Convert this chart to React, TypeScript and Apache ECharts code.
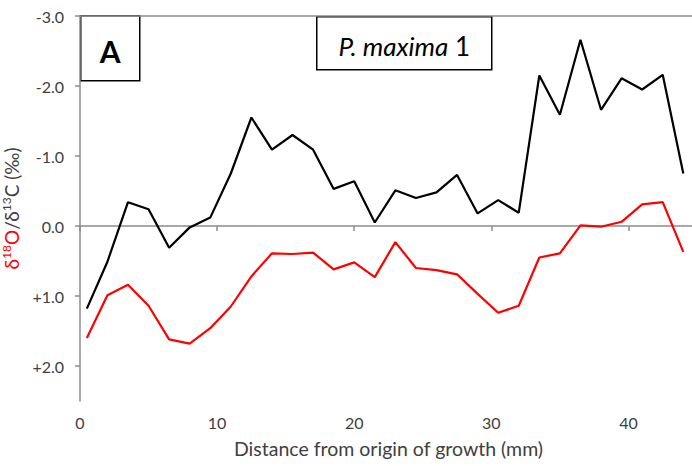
import React, { useEffect, useRef } from "react";
import * as echarts from "echarts";

// Sampling positions along the shell (mm from origin of growth)
const distance = [
  0.5, 2, 3.5, 5, 6.5, 8, 9.5, 11, 12.5, 14, 15.5, 17, 18.5, 20, 21.5, 23,
  24.5, 26, 27.5, 29, 30.5, 32, 33.5, 35, 36.5, 38, 39.5, 41, 42.5, 44,
];

// δ13C (‰), black line
const carbon = [
  1.18, 0.51, -0.34, -0.24, 0.31, 0.02, -0.12, -0.75, -1.55, -1.09, -1.3,
  -1.09, -0.53, -0.64, -0.05, -0.51, -0.4, -0.48, -0.73, -0.18, -0.37, -0.19,
  -2.15, -1.59, -2.66, -1.66, -2.11, -1.95, -2.16, -0.75,
];

// δ18O (‰), red line
const oxygen = [
  1.6, 0.99, 0.84, 1.14, 1.62, 1.68, 1.46, 1.15, 0.72, 0.39, 0.4, 0.38, 0.62,
  0.52, 0.73, 0.23, 0.6, 0.63, 0.69, 0.97, 1.24, 1.14, 0.45, 0.39, -0.01, 0.01,
  -0.06, -0.31, -0.34, 0.37,
];

const xTitle = "Distance from origin of growth (mm)";
const panelLabel = "A";
const specimenItalic = "P. maxima";
const specimenNumber = "1";

const FONT = "Lato, 'Liberation Sans', sans-serif";
const AXIS_GREY = "#8c8c8c";
const LABEL_COLOR = "#404040";

export default function App() {
  const ref = useRef<HTMLDivElement>(null);

  useEffect(() => {
    if (!ref.current) return;
    const chart = echarts.init(ref.current, null, { renderer: "svg" });

    const pairs = (ys: number[]) => distance.map((x, i) => [x, ys[i]]);

    chart.setOption({
      animation: false,
      textStyle: { fontFamily: FONT },
      grid: {
        left: 80,
        top: 16,
        bottom: 65,
        right: -5,
        containLabel: false,
        outerBoundsMode: "none",
      },
      xAxis: [
        {
          type: "value",
          min: 0,
          max: 45,
          interval: 10,
          position: "bottom",
          axisLine: { lineStyle: { color: AXIS_GREY, width: 1.5 } },
          axisTick: { show: true, inside: false, length: 5, lineStyle: { color: AXIS_GREY, width: 1.5 } },
          axisLabel: {
            margin: 13,
            color: LABEL_COLOR,
            fontSize: 16,
            fontFamily: FONT,
            showMaxLabel: false,
          },
          splitLine: { show: false },
          name: xTitle,
          nameLocation: "middle",
          nameGap: 37,
          nameTextStyle: { color: LABEL_COLOR, fontSize: 19.5, fontFamily: FONT },
        },
        {
          type: "value",
          min: 0,
          max: 45,
          position: "top",
          axisLine: { lineStyle: { color: AXIS_GREY, width: 1.5 } },
          axisTick: { show: false },
          axisLabel: { show: false },
          splitLine: { show: false },
        },
      ],
      yAxis: {
        type: "value",
        inverse: true,
        min: -3,
        max: 2.5,
        interval: 1,
        axisLine: { show: true, lineStyle: { color: AXIS_GREY, width: 1.5 } },
        axisTick: { show: true, length: 5, lineStyle: { color: AXIS_GREY, width: 1.5 } },
        axisLabel: {
          margin: 16,
          color: LABEL_COLOR,
          fontSize: 16,
          fontFamily: FONT,
          showMaxLabel: false,
          formatter: (v: number) => (v > 0 ? "+" + v.toFixed(1) : v.toFixed(1)),
        },
        splitLine: { show: false },
        name: "{r|δ}{rs|18}{r|O}{k|/δ}{ks|13}{k|C (‰)}",
        nameLocation: "middle",
        nameGap: 46,
        nameRotate: 90,
        nameTextStyle: {
          fontFamily: FONT,
          rich: {
            r: { color: "#ff0000", fontSize: 19, fontFamily: FONT, lineHeight: 22, verticalAlign: "bottom" },
            rs: { color: "#ff0000", fontSize: 12, fontFamily: FONT, lineHeight: 22, verticalAlign: "top", padding: [1, 0, 0, 0] },
            k: { color: LABEL_COLOR, fontSize: 19, fontFamily: FONT, lineHeight: 22, verticalAlign: "bottom" },
            ks: { color: LABEL_COLOR, fontSize: 12, fontFamily: FONT, lineHeight: 22, verticalAlign: "top", padding: [1, 0, 0, 0] },
          },
        },
      },
      series: [
        {
          name: "δ13C",
          type: "line",
          data: pairs(carbon),
          showSymbol: false,
          symbol: "none",
          lineStyle: { color: "#000000", width: 2.2 },
          z: 3,
        },
        {
          name: "δ18O",
          type: "line",
          data: pairs(oxygen),
          showSymbol: false,
          symbol: "none",
          lineStyle: { color: "#ff0000", width: 2.2 },
          z: 2,
        },
      ],
      graphic: [
        {
          type: "group",
          left: 80,
          top: 15,
          children: [
            {
              type: "rect",
              shape: { x: 0, y: 0, width: 59, height: 65 },
              style: { fill: "#ffffff", stroke: "#000000", lineWidth: 1.5 },
            },
            {
              type: "text",
              x: 29.5,
              y: 35,
              style: {
                text: panelLabel,
                fontFamily: FONT,
                fontWeight: "bold",
                fontSize: 30,
                fill: "#000000",
                align: "center",
                verticalAlign: "middle",
              },
            },
          ],
        },
        {
          type: "group",
          left: 316,
          top: 16,
          children: [
            {
              type: "rect",
              shape: { x: 0, y: 0, width: 175, height: 53 },
              style: { fill: "#ffffff", stroke: "#000000", lineWidth: 1.5 },
            },
            {
              type: "text",
              x: 87.5,
              y: 29,
              style: {
                text: "{i|" + specimenItalic + "}{n| " + specimenNumber + "}",
                align: "center",
                verticalAlign: "middle",
                rich: {
                  i: { fontFamily: FONT, fontStyle: "italic", fontSize: 26, fill: "#000000" },
                  n: { fontFamily: FONT, fontSize: 26, fill: "#000000" },
                },
              },
            },
          ],
        },
      ],
    });

    return () => chart.dispose();
  }, []);

  return (
    <div
      ref={ref}
      style={{ position: "fixed", left: 0, top: 0, width: 692, height: 466, background: "#ffffff" }}
    />
  );
}
